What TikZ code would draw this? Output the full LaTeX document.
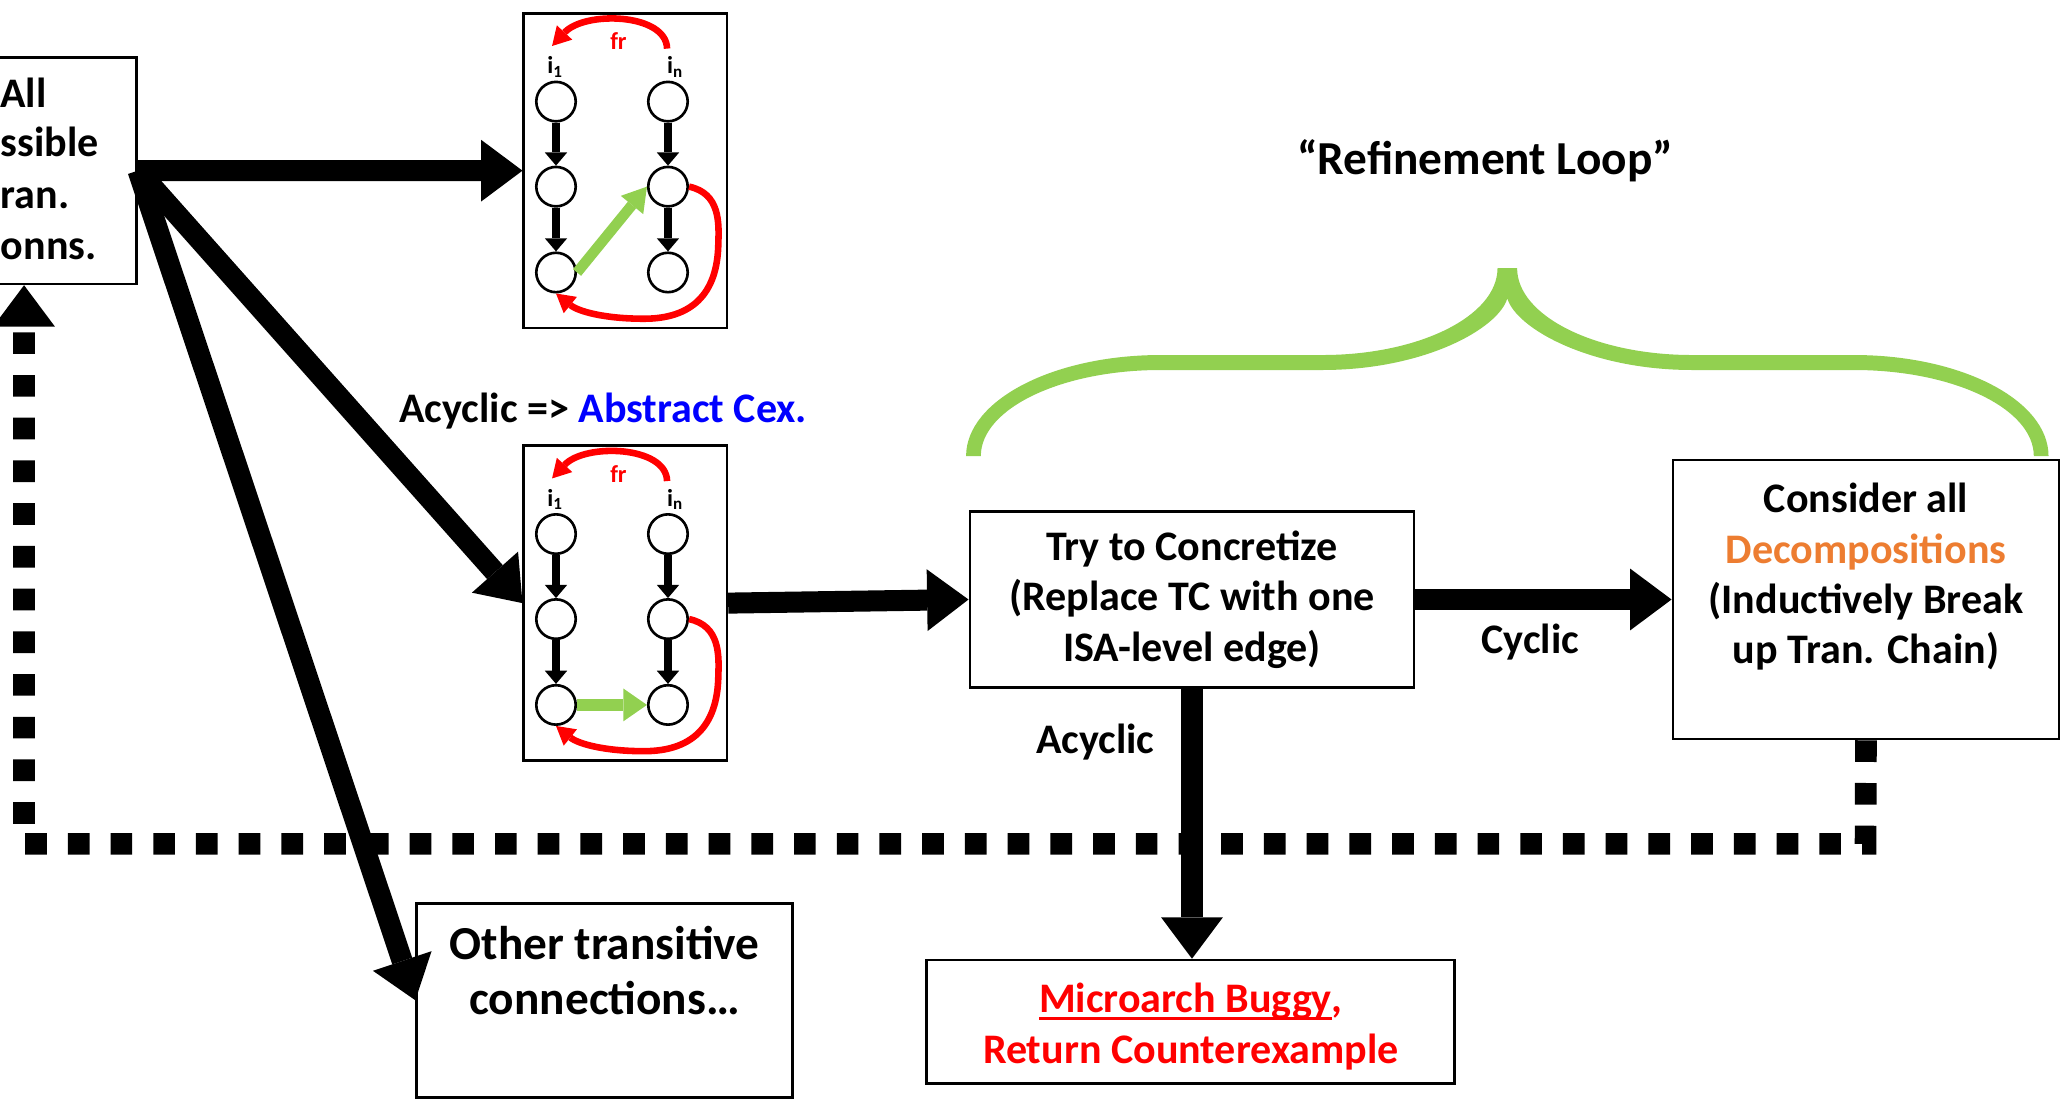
\documentclass[tikz,border=0pt]{standalone}
\usepackage{fontspec}
\setmainfont{Carlito}
\usetikzlibrary{arrows.meta}
\definecolor{lgreen}{HTML}{92D050}
\definecolor{dorange}{HTML}{ED7D31}
\definecolor{pred}{HTML}{FF0000}
\definecolor{pblue}{HTML}{0000FF}
\newcommand{\myul}[1]{\setbox0=\hbox{#1}\rlap{\rule[-5.2pt]{\wd0}{1.8pt}}\box0}
\begin{document}
\begin{tikzpicture}[x=1pt,y=-1pt,
  box/.style={draw,line width=2pt,inner sep=0pt},
  gbox/.style={draw,line width=2pt,inner sep=0pt,minimum width=154.5pt,minimum height=239.5pt},
  circ/.style={draw,circle,line width=2pt,minimum size=30pt,inner sep=0pt},
  big/.style={line width=16pt,-{Triangle[length=31.5pt,width=47pt,line width=0pt]}},
  seqarr/.style={line width=5.8pt,-{Triangle[length=10pt,width=17pt,line width=0pt]}},
  redarc/.style={pred,line width=5pt,-{Triangle[length=14pt,width=16pt,line width=0pt]}},
  greenarr/.style={lgreen,line width=8pt,-{Triangle[length=18pt,width=22pt,line width=0pt]}},
  lbl/.style={font=\fontsize{32}{38.3}\selectfont\bfseries,align=center,inner sep=0pt},
  biglbl/.style={font=\fontsize{36}{42}\selectfont\bfseries,align=center,inner sep=0pt},
  small/.style={font=\fontsize{18.5}{18.5}\selectfont\bfseries,inner sep=0pt},
]
\useasboundingbox (0,0) rectangle (1568,844.5);
\fill[white] (0,0) rectangle (1568,844.5);
\clip (0,0) rectangle (1568,844.5);

% green brace
\fill[lgreen] (735,347) .. controls (735,304.5) and (801.3,270.1) .. (883,270.1) -- (1006,270.1)
  .. controls (1079.6,270.1) and (1139.3,240.5) .. (1139.3,204) -- (1154.2,204)
  .. controls (1154.2,240.5) and (1213.9,270.1) .. (1287.5,270.1) -- (1410.5,270.1)
  .. controls (1492.2,270.1) and (1558.5,304.5) .. (1558.5,347) -- (1547.3,347)
  .. controls (1547.3,310.8) and (1486.1,281.5) .. (1410.5,281.5) -- (1287.5,281.5)
  .. controls (1210,281.5) and (1153.5,250) .. (1146.75,227)
  .. controls (1140,250) and (1083.5,281.5) .. (1006,281.5) -- (883,281.5)
  .. controls (807.4,281.5) and (746.2,310.8) .. (746.2,347) -- cycle;

% boxes
\node[box,minimum width=173.6pt,minimum height=172.4pt] (all) at (17.2,129.8) {};
\node[lbl,anchor=base] (all1) at (17.8,81.7) {All};
\node[lbl,anchor=base west] (all2) at (0.5,119.2) {ssible};
\node[lbl,anchor=base west] (all3) at (0.5,158.5) {ran.};
\node[lbl,anchor=base west] (all4) at (0.5,197.8) {onns.};
\node[gbox] (ga) at (475.75,129.85) {};
\node[gbox] (gb) at (475.75,458.85) {};
\node[box,lbl,minimum width=338pt,minimum height=133.6pt] (try) at (906.85,456.1) {Try to Concretize\\(Replace TC with one\\ISA-level edge)};
\node[box,minimum width=293.8pt,minimum height=212.2pt] (cons) at (1419.6,456.1) {};
\node[lbl] (constxt) at (1419.6,439) {Consider all\\\textcolor{dorange}{Decompositions}\\(Inductively Break\\up Tran. Chain)};
\node[box,minimum width=286pt,minimum height=147.5pt] (other) at (460,761) {};
\node[biglbl] (othertxt) at (460,738.5) {Other transitive\\connections…};
\node[box,minimum width=402pt,minimum height=93.8pt] (micro) at (905.75,777.3) {};
\node[lbl,text=pred] (microtxt) at (906,781) {\myul{Microarch Buggy},\\Return Counterexample};

% labels
\node[biglbl,anchor=base] (loop) at (1129.8,133.1) {“Refinement Loop”};
\node[lbl,anchor=base] (acy1) at (459,321.6) {Acyclic => \textcolor{pblue}{Abstract Cex.}};
\node[lbl,anchor=base] (cyc) at (1164.3,497) {Cyclic};
\node[lbl,anchor=base] (acy2) at (833.2,573) {Acyclic};

% small graphs
\foreach \g/\dy in {a/0,b/329}{
  \begin{scope}[shift={(0,\dy)}]
    \node[circ] (\g11) at (423,77.3) {};
    \node[circ] (\g12) at (423,142) {};
    \node[circ] (\g13) at (423,207.3) {};
    \node[circ] (\g21) at (508.2,77.3) {};
    \node[circ] (\g22) at (508.2,142) {};
    \node[circ] (\g23) at (508.2,207.3) {};
    \node[small,anchor=base] (\g i1) at (422.3,56) {i\textsubscript{1}};
    \node[small,anchor=base] (\g in) at (513.5,56) {i\textsubscript{n}};
    \node[small,anchor=base,text=pred] (\g fr) at (470.5,38) {fr};
    \coordinate (\g frs) at (507.5,37);
    \coordinate (\g fre) at (420,35);
    \draw[seqarr] (\g11) -- (\g12);
    \draw[seqarr] (\g12) -- (\g13);
    \draw[seqarr] (\g21) -- (\g22);
    \draw[seqarr] (\g22) -- (\g23);
    \draw[redarc] (\g frs) .. controls (507,10) and (445,8) .. (\g fre);
    \draw[redarc] (\g22.east) .. controls (548,147) and (547,170) .. (546.5,185)
      .. controls (546,225) and (525,242.5) .. (490,242.5)
      .. controls (460,242.5) and (440,237) .. (\g13.south);
  \end{scope}
}
\draw[greenarr] (a13.east) -- (a22.west);
\draw[greenarr,line width=9.5pt,-{Triangle[length=18pt,width=25pt,line width=0pt]}] (b13.east) -- (b23.west);

% main connectors
\draw[big] (all.east) -- (ga.west);
\draw[big] (all.east) -- (gb.west);
\draw[big] (all.east) -- (other.west);
\draw[big] (gb.east) -- (try.west);
\draw[big] (try.east) -- (cons.west);
\draw[big] (try.south) -- (try.south |- micro.north);

% dashed return path
\coordinate (dr) at (1419.3,642);
\coordinate (dl) at (18.3,642);
\draw[line width=16.5pt,dash pattern=on 16.5pt off 16pt,-{Triangle[length=31.5pt,width=47pt,line width=0pt]}]
  (cons.south) -- (dr) -- (dl) -- (dl |- all.south);
\end{tikzpicture}
\end{document}
